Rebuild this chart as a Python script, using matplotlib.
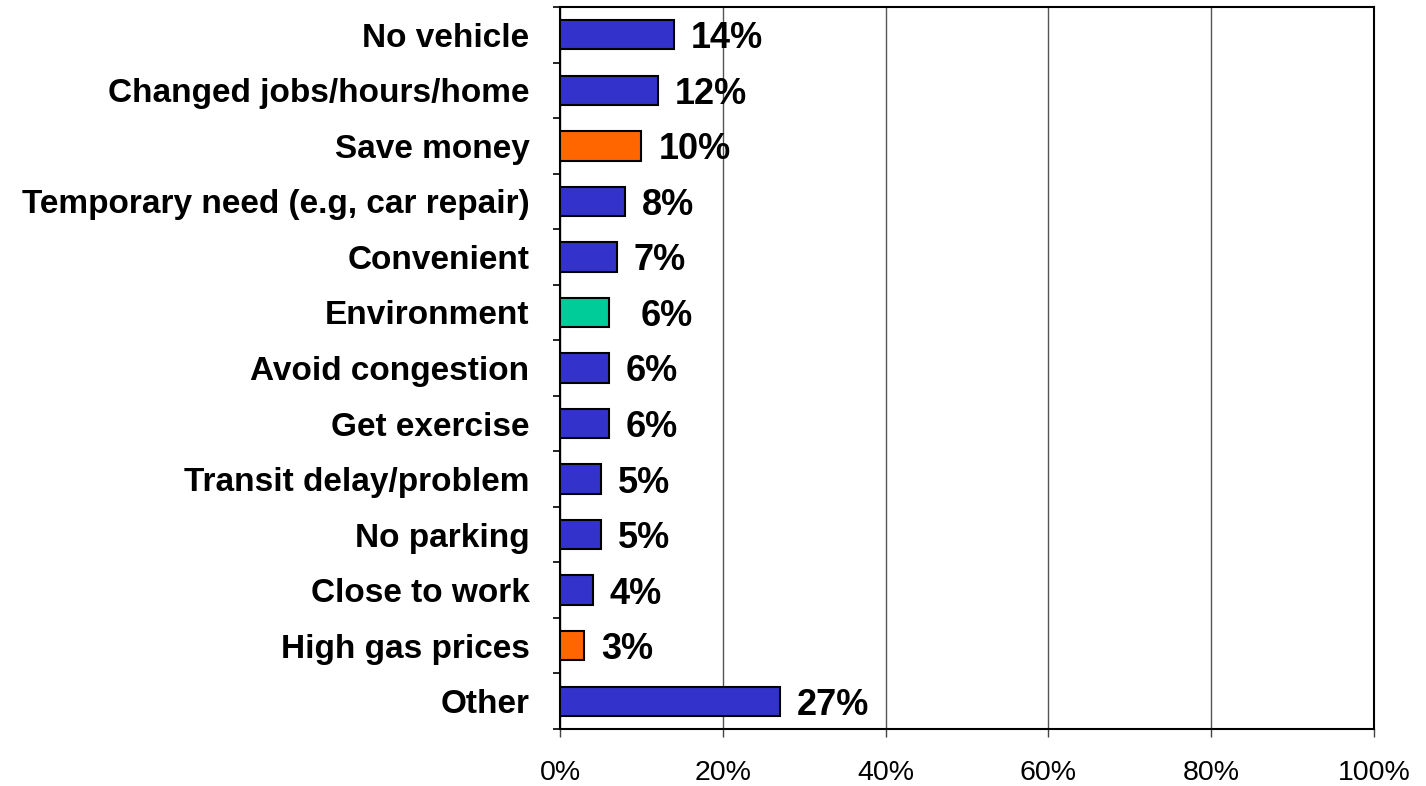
import matplotlib
matplotlib.use('Agg')
import matplotlib.pyplot as plt
from matplotlib.ticker import FixedLocator

plt.rcParams['font.family'] = ['Liberation Sans', 'DejaVu Sans']

# data
categories = ['No vehicle', 'Changed jobs/hours/home', 'Save money',
              'Temporary need (e.g, car repair)', 'Convenient', 'Environment',
              'Avoid congestion', 'Get exercise', 'Transit delay/problem',
              'No parking', 'Close to work', 'High gas prices', 'Other']
values = [14, 12, 10, 8, 7, 6, 6, 6, 5, 5, 4, 3, 27]
labels = ['14%', '12%', '10%', '8%', '7%', '6%', '6%', '6%', '5%', '5%', '4%', '3%', '27%']
colors = ['#3333CC', '#3333CC', '#FF6600', '#3333CC', '#3333CC', '#00CC99',
          '#3333CC', '#3333CC', '#3333CC', '#3333CC', '#3333CC', '#FF6600', '#3333CC']
tick_labels = ['0%', '20%', '40%', '60%', '80%', '100%']

fig = plt.figure(figsize=(14.26, 7.86), dpi=100)
ax = fig.add_axes([560/1426, 1 - 729/786, 814/1426, 722/786])

n = len(categories)
ypos = list(range(n))
ax.barh(ypos, values, height=0.53, color=colors, edgecolor='black', linewidth=1.5, zorder=3)
ax.set_ylim(n - 0.5, -0.5)
ax.set_xlim(0, 100)

# value labels, Environment one sits a bit further out like the original
for i, (v, lab) in enumerate(zip(values, labels)):
    off = 32 if categories[i] == 'Environment' else 17
    ax.annotate(lab, (v, i), xytext=(off, 0), textcoords='offset pixels',
                ha='left', va='center_baseline', fontsize=26, fontweight='bold')

ax.set_yticks(ypos)
ax.set_yticklabels(categories, fontsize=24, fontweight='bold', va='center_baseline')
ax.yaxis.set_minor_locator(FixedLocator([i + 0.5 for i in range(-1, n)]))
ax.tick_params(axis='y', which='major', length=0, pad=22)
ax.tick_params(axis='y', which='minor', length=5, width=1.2, direction='out')

ax.set_xticks([0, 20, 40, 60, 80, 100])
ax.set_xticklabels(tick_labels, fontsize=20.5)
ax.tick_params(axis='x', length=6, width=1, direction='out', pad=16, color='#444444')

ax.grid(axis='x', color='#555555', linewidth=1, zorder=0)
for s in ax.spines.values():
    s.set_linewidth(1.5)
    s.set_color('black')

fig.savefig('out.png', dpi=100)
